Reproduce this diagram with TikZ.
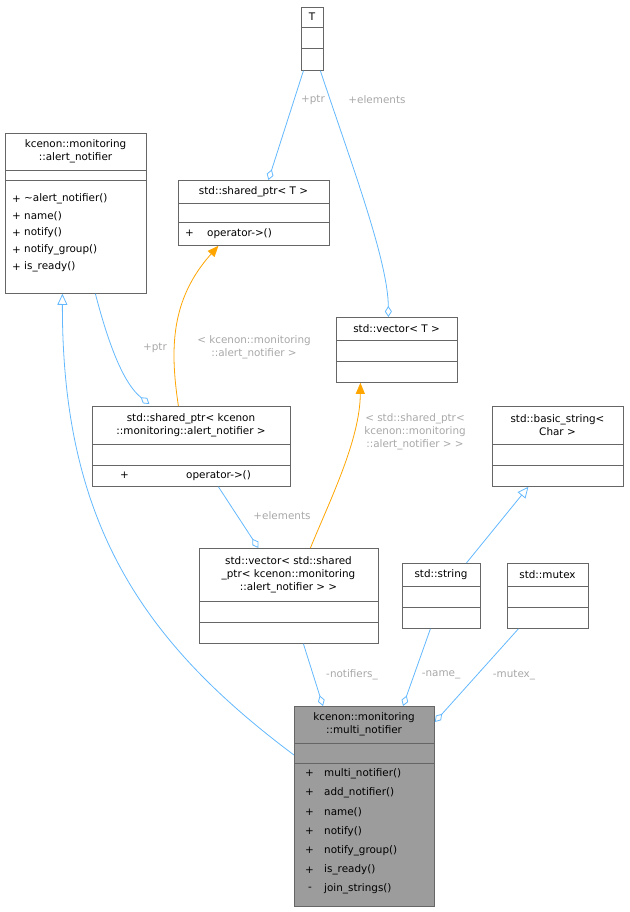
\documentclass[tikz,border=0pt]{standalone}
\usepackage{fontspec}
\setmainfont{DejaVu Sans}
\usetikzlibrary{arrows.meta}
\definecolor{edgeblue}{HTML}{63B8FF}
\definecolor{edgeorange}{HTML}{FFA500}
\definecolor{labelgrey}{HTML}{A8A8A8}
\definecolor{framegrey}{HTML}{666666}
\def\classbox#1#2#3#4#5 {
      \node[box,minimum width=#4pt,minimum height=#5pt] (#1) at (#2,#3) {};
  }
\def\sep#1#2#3 {
      \draw[framegrey,line width=0.8pt] (#1,#3) -- (#2,#3);
  }
\begin{document}
\begin{tikzpicture}[x=1pt,y=-1pt,
  font=\fontsize{10.4pt}{13pt}\selectfont,
  box/.style = {draw=framegrey,line width=0.8pt,fill=white,anchor=north west,inner sep=0pt},
  title/.style = {align=center,inner sep=0pt},
  meth/.style = {anchor=west,inner sep=0pt},
  lbl/.style = {text=labelgrey,align=center,inner sep=1pt},
  uses/.style = {draw=edgeblue,line width=0.8pt,-{Diamond[open,length=11pt,width=7pt]}},
  isa/.style = {draw=edgeblue,line width=0.8pt,-{Triangle[open,length=11pt,width=10pt]}},
  tmpl/.style = {draw=edgeorange,line width=0.8pt,-{Triangle[length=11pt,width=9pt]}}]

 \useasboundingbox (0,0) rectangle (629,912);

 % classes
 \classbox{T}{301}{7}{22}{63}
 \sep{301}{323}{27} \sep{301}{323}{48}
 \node[title] (tT) at (312,17) {T};

 \classbox{alert}{5}{133}{141}{160}
 \sep{5}{146}{170} \sep{5}{146}{180}
 \node[title] (talert) at (75.5,151.5) {kcenon::monitoring\\::alert\_notifier};
 \foreach \m [count=\i] in {\textasciitilde alert\_notifier(),name(),notify(),notify\_group(),is\_ready()}
   {\node[meth] at (12,182+\i*17) {+};
    \node[meth] at (24,182+\i*17) {\m};}

 \classbox{sptrT}{178}{180}{151}{65}
 \sep{178}{329}{203} \sep{178}{329}{222}
 \node[title] (tsptrT) at (253.5,191.5) {std::shared\_ptr< T >};
 \node[meth] at (185,233.5) {+};
 \node[meth] at (207,233.5) {operator->()};

 \classbox{vecT}{336}{317}{121}{65}
 \sep{336}{457}{340} \sep{336}{457}{361}
 \node[title] (tvecT) at (396.5,328.5) {std::vector< T >};

 \classbox{sptrA}{92}{406}{198}{80}
 \sep{92}{290}{444} \sep{92}{290}{465}
 \node[title] (tsptrA) at (191,425) {std::shared\_ptr< kcenon\\::monitoring::alert\_notifier >};
 \node[meth] at (120,475.5) {+};
 \node[meth] at (186,475.5) {operator->()};

 \classbox{bstr}{492}{406}{131}{80}
 \sep{492}{623}{444} \sep{492}{623}{465}
 \node[title] (tbstr) at (557.5,425) {std::basic\_string<\\Char >};

 \classbox{vecA}{199}{548}{179}{95}
 \sep{199}{378}{601} \sep{199}{378}{622}
 \node[title] (tvecA) at (288.5,574.5) {std::vector< std::shared\\\_ptr< kcenon::monitoring\\::alert\_notifier > >};

 \classbox{str}{402}{563}{78}{65}
 \sep{402}{480}{586} \sep{402}{480}{607}
 \node[title] (tstr) at (441,574.5) {std::string};

 \classbox{mtx}{507}{563}{81}{65}
 \sep{507}{588}{586} \sep{507}{588}{607}
 \node[title] (tmtx) at (547.5,574.5) {std::mutex};

 \node[box,fill=framegrey!65,minimum width=140pt,minimum height=200pt] (multi) at (294,706) {};
 \sep{294}{434}{743} \sep{294}{434}{763}
 \node[title] (tmulti) at (364,724.5) {kcenon::monitoring\\::multi\_notifier};
 \foreach \m [count=\i] in {multi\_notifier(),add\_notifier(),name(),notify(),notify\_group(),is\_ready()}
   {\node[meth] at (305,754+\i*19.3) {+};
    \node[meth] at (324,754+\i*19.3) {\m};}
 \node[meth] at (308,7*19.3+754) {-};
 \node[meth] at (324,7*19.3+754) {join\_strings()};

 % relations
 \path[isa] ([yshift=-49pt]multi.north west) .. controls (140,640) and (62,520) .. ([xshift=-13.5pt]alert.south);
 \path[uses] ([xshift=19.5pt]alert.south) .. controls (110,350) and (125,385) .. ([xshift=-42pt,yshift=2pt]sptrA.north);
 \node[lbl] at (155,348) {+ptr};
 \path[uses] ([xshift=-9pt]T.south) -- ([xshift=14.5pt]sptrT.north);
 \node[lbl] at (313,100) {+ptr};
 \path[uses] ([xshift=8pt]T.south) .. controls (350,160) and (388,260) .. ([xshift=-8.5pt]vecT.north);
 \node[lbl] at (377,100) {+elements};
 \path[tmpl] ([xshift=-13pt]sptrA.north) .. controls (170,350) and (170,300) .. ([xshift=-35.5pt]sptrT.south);
 \node[lbl] at (254,347) {< kcenon::monitoring\\::alert\_notifier >};
 \path[tmpl] ([xshift=21.5pt]vecA.north) .. controls (330,500) and (360,440) .. ([xshift=-36.5pt]vecT.south);
 \node[lbl] at (415,432) {< std::shared\_ptr<\\kcenon::monitoring\\::alert\_notifier > >};
 \path[uses] ([xshift=27pt]sptrA.south) -- ([xshift=-30.5pt]vecA.north);
 \node[lbl] at (282,516) {+elements};
 \path[isa] ([xshift=25pt]str.north) -- ([xshift=-29.5pt]bstr.south);
 \path[uses] ([xshift=14.5pt]vecA.south) -- ([xshift=29pt]multi.north west);
 \node[lbl] at (352,675) {-notifiers\_};
 \path[uses] ([xshift=-11pt]str.south) -- ([xshift=109pt]multi.north west);
 \node[lbl] at (441,675) {-name\_};
 \path[uses] ([xshift=-29.5pt]mtx.south) -- ([yshift=-16pt]multi.north east);
 \node[lbl] at (514,675) {-mutex\_};
\end{tikzpicture}
\end{document}
